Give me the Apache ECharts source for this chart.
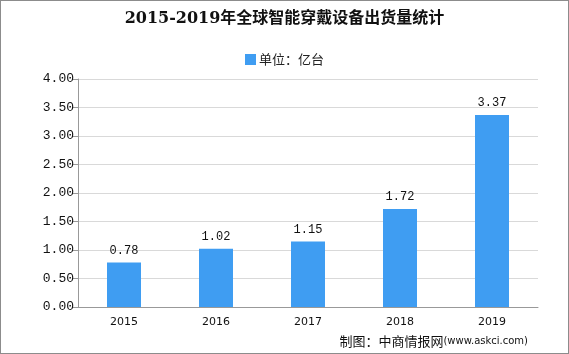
<!DOCTYPE html>
<html>
<head>
<meta charset="utf-8">
<script src="https://cdn.jsdelivr.net/npm/echarts@6/dist/echarts.min.js"></script>
<style>
  html, body { margin: 0; padding: 0; background: #fff; }
  #chart { width: 567px; height: 352px; border: 1px solid #8c8c8c; }
</style>
</head>
<body>
<div id="chart"></div>
<script>
const years = ['2015', '2016', '2017', '2018', '2019'];
const shipments = [0.78, 1.02, 1.15, 1.72, 3.37];
const yTicks = { min: 0, max: 4, interval: 0.5 };

const monoFont = '"Liberation Mono", "DejaVu Sans Mono", "Noto Sans CJK SC", monospace';

const myChart = echarts.init(document.getElementById('chart'));
myChart.setOption({
  animation: false,
  title: {
    text: '2015-2019年全球智能穿戴设备出货量统计',
    left: 'center',
    top: 5,
    textStyle: {
      fontFamily: '"DejaVu Serif", "Noto Sans CJK SC", serif',
      fontWeight: 'bold',
      fontSize: 16,
      color: '#111'
    }
  },
  legend: {
    top: 47,
    left: 'center',
    icon: 'rect',
    itemWidth: 11,
    itemHeight: 11,
    itemGap: 4,
    textStyle: { fontFamily: '"Noto Sans CJK SC", sans-serif', fontSize: 13, color: '#222', padding: [0, 0, 0, -2] },
    data: ['单位：亿台']
  },
  grid: { left: 77, right: 30, top: 78, bottom: 46 },
  xAxis: {
    type: 'category',
    data: years,
    axisLine: { lineStyle: { color: '#999' } },
    axisTick: { lineStyle: { color: '#999' } },
    axisLabel: { color: '#111', fontFamily: '"DejaVu Sans", sans-serif', fontSize: 11, margin: 10 }
  },
  yAxis: {
    type: 'value',
    min: yTicks.min,
    max: yTicks.max,
    interval: yTicks.interval,
    axisLine: { show: true, lineStyle: { color: '#999' } },
    axisTick: { show: true, length: 6, lineStyle: { color: '#999' } },
    splitLine: { lineStyle: { color: '#d9d9d9' } },
    axisLabel: {
      color: '#111',
      fontFamily: monoFont,
      fontSize: 13,
      margin: 4,
      formatter: v => v.toFixed(2)
    }
  },
  series: [{
    name: '单位：亿台',
    type: 'bar',
    data: shipments,
    barWidth: 34,
    itemStyle: { color: '#3f9df2' },
    label: {
      show: true,
      position: 'top',
      distance: 6,
      color: '#111',
      fontFamily: monoFont,
      fontSize: 12,
      formatter: p => p.value.toFixed(2)
    }
  }],
  graphic: [{
    type: 'text',
    right: 40,
    bottom: 5,
    style: {
      text: '{a|制图：中商情报网}{b|(www.askci.com)}',
      rich: {
        a: { fontFamily: '"Noto Sans CJK SC", sans-serif', fontSize: 13, fill: '#111' },
        b: { fontFamily: '"DejaVu Sans", sans-serif', fontSize: 10, fill: '#111' }
      }
    }
  }]
});
</script>
</body>
</html>
